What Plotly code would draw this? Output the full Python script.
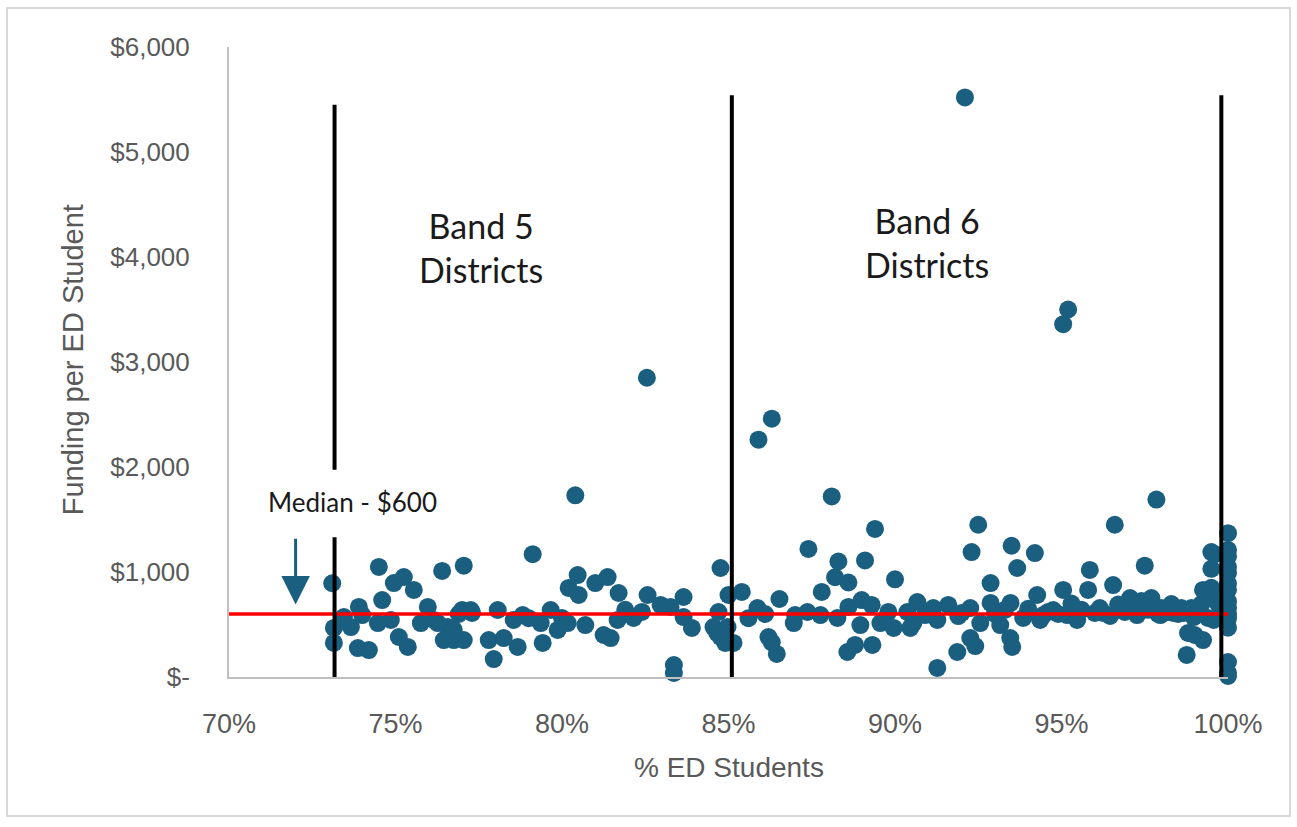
import plotly.graph_objects as go

# % economically disadvantaged students per district (percent)
pct_ed = [
    73.1, 73.15, 73.15, 73.45, 73.66, 73.9, 73.87, 74.2, 74.47, 74.5,
    74.6, 74.86, 74.95, 75.1, 75.25, 75.37, 75.55, 75.76, 75.97, 76.15,
    76.27, 76.4, 76.45, 76.57, 76.75, 76.75, 77.0, 77.05, 77.26, 77.3,
    77.05, 77.8, 77.95, 78.07, 78.25, 78.55, 78.67, 78.82, 79.12, 79.36,
    79.42, 79.66, 79.87, 80.0, 80.17, 80.2, 80.4, 80.47, 80.5, 80.7,
    81.0, 81.25, 81.37, 81.67, 81.7, 81.46, 82.15, 82.55, 82.57, 82.96,
    83.26, 83.36, 83.36, 83.65, 83.65, 83.9, 84.55, 84.66, 84.7, 84.76,
    84.76, 84.9, 84.97, 85.0, 85.15, 85.4, 85.87, 85.9, 86.2, 86.3,
    86.3, 86.45, 86.53, 86.96, 87.4, 87.37, 87.76, 87.8, 88.1, 88.27,
    88.3, 88.2, 88.57, 88.6, 88.6, 88.8, 88.96, 89.0, 89.1, 89.3,
    89.32, 89.4, 89.56, 89.96, 90.0, 90.37, 90.46, 90.55, 90.67, 91.15,
    91.27, 91.27, 91.6, 91.87, 92.1, 92.26, 92.26, 92.3, 92.41, 92.5,
    92.56, 92.87, 92.87, 93.16, 93.46, 93.52, 93.47, 93.5, 93.67, 93.85,
    94.2, 94.27, 94.36, 94.45, 94.75, 95.05, 95.05, 95.2, 95.17, 95.47,
    95.85, 95.8, 96.15, 96.25, 96.46, 96.55, 96.6, 97.06, 97.2, 97.27,
    97.4, 97.5, 97.7, 97.85, 97.9, 97.97, 98.0, 98.3, 98.36, 98.6,
    98.67, 98.76, 98.8, 98.9, 98.97, 99.0, 99.2, 99.25, 99.25, 99.57,
    99.5, 99.6, 99.5, 99.5, 99.4, 100.0, 100.0, 100.0, 100.0, 100.0,
    100.0, 100.0, 100.0, 100.0, 100.0, 100.0, 100.0, 100.0, 100.0, 100.0,
    94.9, 95.6, 96.9, 91.9, 90.9, 85.6, 86.1, 87.0, 82.4, 81.9,
    79.0, 76.9, 74.0, 89.8, 93.0, 94.0, 96.0, 98.2, 99.1, 99.8,
    99.7, 99.9, 99.6, 98.5, 97.6, 96.7, 95.3, 94.6, 93.3, 92.0,
]

# Funding per ED student (dollars)
funding = [
    893, 467, 324, 571, 476, 667, 276, 257, 514, 1048,
    733, 543, 895, 381, 952, 286, 829, 514, 667, 543,
    514, 1010, 352, 476, 448, 352, 638, 1060, 638, 610,
    352, 352, 171, 638, 371, 543, 286, 590, 1170, 514,
    324, 638, 448, 562, 514, 848, 1730, 971, 781, 495,
    895, 400, 952, 543, 800, 371, 562, 2850, 781, 686,
    667, 114, 38, 762, 571, 467, 476, 419, 619, 1038,
    381, 324, 476, 781, 324, 810, 657, 2260, 380, 330,
    2460, 220, 743, 514, 1220, 619, 590, 810, 1720, 562,
    1100, 950, 238, 667, 900, 305, 495, 733, 1110, 686,
    305, 1410, 514, 467, 930, 619, 467, 514, 714, 657,
    543, 86, 686, 238, 5520, 657, 371, 1190, 295, 1450,
    514, 705, 895, 495, 371, 286, 705, 1250, 1038, 562,
    1180, 781, 543, 590, 638, 829, 3360, 3500, 590, 543,
    1020, 829, 657, 610, 581, 876, 1450, 752, 629, 590,
    724, 1060, 752, 1690, 600, 590, 657, 695, 610, 657,
    610, 210, 419, 657, 571, 400, 695, 829, 352, 543,
    1190, 1170, 1030, 850, 562, 1370, 1210, 1150, 1050, 990,
    890, 830, 720, 660, 600, 560, 470, 143, 40, 10,
    600, 640, 620, 580, 590, 560, 600, 590, 620, 640,
    560, 600, 590, 620, 600, 650, 610, 620, 600, 640,
    700, 640, 760, 600, 640, 690, 700, 620, 640, 610,
]

median_funding = 600
band_edges = [73.17, 85.1, 99.8]
band_tops = [5450, 5540, 5540]
y_ticks = [0, 1000, 2000, 3000, 4000, 5000, 6000]
y_tick_text = ["$-", "$1,000", "$2,000", "$3,000", "$4,000", "$5,000", "$6,000"]
x_ticks = [70, 75, 80, 85, 90, 95, 100]
x_tick_text = ["70%", "75%", "80%", "85%", "90%", "95%", "100%"]

DOT = "#1A5E80"
AXIS_GREY = "#BFBFBF"
TEXT_GREY = "#595959"
LABEL_FONT = "Lato, Carlito, sans-serif"
AXIS_FONT = "Liberation Sans, Arial, sans-serif"

fig = go.Figure()
fig.add_trace(go.Scatter(
    x=pct_ed, y=funding, mode="markers",
    marker=dict(size=18, color=DOT, line=dict(width=0)),
    cliponaxis=False, hoverinfo="x+y", showlegend=False,
))

shapes = []
# median line across the whole x range
shapes.append(dict(type="line", xref="x", yref="y", x0=70, x1=100,
                   y0=median_funding, y1=median_funding,
                   line=dict(color="#FF0000", width=3.5), layer="above"))
# band boundary lines (left one interrupted by the median label)
shapes.append(dict(type="line", xref="x", yref="y", x0=band_edges[0], x1=band_edges[0],
                   y0=0, y1=1330, line=dict(color="black", width=4), layer="above"))
shapes.append(dict(type="line", xref="x", yref="y", x0=band_edges[0], x1=band_edges[0],
                   y0=1975, y1=band_tops[0], line=dict(color="black", width=4), layer="above"))
for edge, top in zip(band_edges[1:], band_tops[1:]):
    shapes.append(dict(type="line", xref="x", yref="y", x0=edge, x1=edge,
                       y0=0, y1=top, line=dict(color="black", width=4), layer="above"))
# outer frame around the chart
shapes.append(dict(type="rect", xref="paper", yref="paper",
                   x0=-0.2222, x1=1.0621, y0=-0.2206, y1=1.0619,
                   line=dict(color="#D9D9D9", width=2), fillcolor="rgba(0,0,0,0)",
                   layer="below"))

annotations = [
    dict(x=77.57, y=4090, xref="x", yref="y", text="Band 5<br>Districts",
         showarrow=False, font=dict(family=LABEL_FONT, size=34, color="#1a1a1a"),
         align="center", yanchor="middle"),
    dict(x=90.96, y=4135, xref="x", yref="y", text="Band 6<br>Districts",
         showarrow=False, font=dict(family=LABEL_FONT, size=34, color="#1a1a1a"),
         align="center", yanchor="middle"),
    dict(x=73.7, y=1670, xref="x", yref="y", text="Median - $600",
         showarrow=False, font=dict(family=LABEL_FONT, size=26, color="#1a1a1a"),
         yanchor="middle"),
    dict(x=72.0, y=690, xref="x", yref="y", ax=72.0, ay=1330, axref="x", ayref="y",
         text="", showarrow=True, arrowhead=2, arrowsize=1.9, arrowwidth=3,
         arrowcolor=DOT),
    dict(x=0.5, y=-0.143, xref="paper", yref="paper", text="% ED Students",
         showarrow=False, xanchor="center", yanchor="middle",
         font=dict(family=AXIS_FONT, size=28, color=TEXT_GREY)),
    dict(x=-0.156, y=0.503, xref="paper", yref="paper", text="Funding per ED Student",
         showarrow=False, textangle=-90, xanchor="center", yanchor="middle",
         font=dict(family=AXIS_FONT, size=29, color=TEXT_GREY)),
]

fig.update_layout(
    width=1297, height=827,
    margin=dict(l=229, r=69, t=47, b=150),
    paper_bgcolor="white", plot_bgcolor="white",
    shapes=shapes, annotations=annotations,
    xaxis=dict(range=[70, 100], tickvals=x_ticks, ticktext=x_tick_text,
               showgrid=False, zeroline=False, showline=True, linecolor=AXIS_GREY,
               linewidth=2, ticks="", ticklabelstandoff=22,
               tickfont=dict(family=AXIS_FONT, size=27, color=TEXT_GREY)),
    yaxis=dict(range=[0, 6000], tickvals=y_ticks, ticktext=y_tick_text,
               showgrid=False, zeroline=False, showline=True, linecolor=AXIS_GREY,
               linewidth=2, ticks="", ticklabelstandoff=32,
               tickfont=dict(family=AXIS_FONT, size=26, color=TEXT_GREY)),
)

fig.write_html("out.html")
